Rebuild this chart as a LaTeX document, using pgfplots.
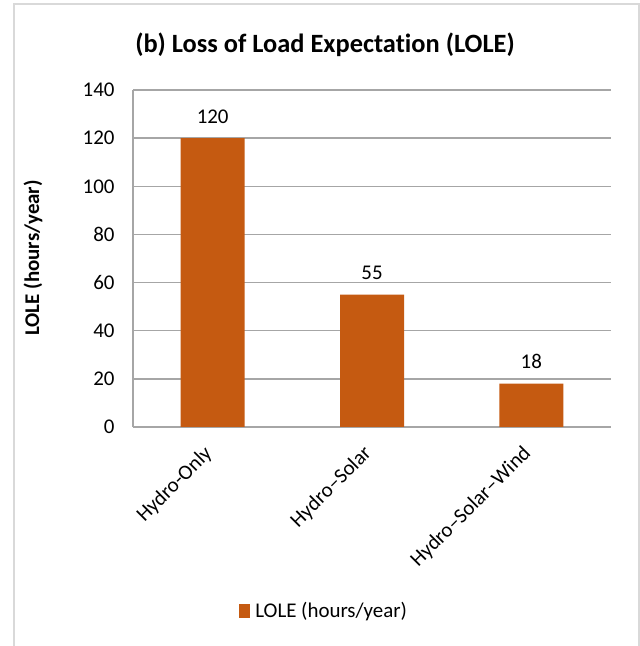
\documentclass[border=0pt]{standalone}
\usepackage{pgfplots}
\pgfplotsset{compat=1.18}
\usepackage{fontspec}
\setmainfont[Ligatures=NoCommon]{Carlito}
\definecolor{barorange}{HTML}{C55A11}
\definecolor{gridgray}{HTML}{A6A6A6}
\definecolor{framegray}{HTML}{D9D9D9}
\begin{document}
\begin{tikzpicture}
\useasboundingbox (0,0) rectangle (640bp,646bp);
\fill[white] (0,0) rectangle (640bp,646bp);
\draw[framegray, line width=1.5bp] (14bp,-10bp) rectangle (639bp,642bp);
\node[font=\fontsize{26.5}{30}\selectfont\bfseries] at (325bp,601bp) {(b) Loss of Load Expectation (LOLE)};
\node[font=\fontsize{21}{24}\selectfont\bfseries, rotate=90] at (33bp,388bp) {LOLE (hours/year)};
\begin{axis}[
  at={(133bp,219bp)}, anchor=south west,
  scale only axis, width=478bp, height=337bp,
  ybar, bar width=64bp,
  xmin=-0.5, xmax=2.5, ymin=0, ymax=140,
  xtick={0,1,2}, xticklabels={Hydro-Only,Hydro--Solar,Hydro--Solar--Wind},
  ytick={0,20,...,140},
  /pgf/number format/assume math mode=true,
  tick label style={font=\fontsize{21}{24}\selectfont, black},
  xticklabel style={xshift=-10bp, yshift=-14bp, rotate=45, anchor=north east, inner sep=2bp},
  yticklabel style={xshift=-15bp},
  major tick length=0pt,
  ymajorgrids, grid style={gridgray, line width=1.3bp},
  axis x line*=bottom, axis y line*=left,
  axis line style={gridgray, line width=1.3bp, -},
  x axis line style={-}, y axis line style={-},
  nodes near coords,
  nodes near coords style={font=\fontsize{21}{24}\selectfont, black, yshift=11bp},
  legend style={at={(0.40,-0.546)}, anchor=center, draw=none, fill=none,
    font=\fontsize{21}{24}\selectfont, legend columns=1},
  legend image code/.code={\fill[barorange] (0bp,-7bp) rectangle (11bp,7bp);},
]
\addplot[fill=barorange, draw=none] coordinates {(0,120) (1,55) (2,18)};
\addlegendentry{\hspace{3bp}LOLE (hours/year)}
\end{axis}
\end{tikzpicture}
\end{document}
